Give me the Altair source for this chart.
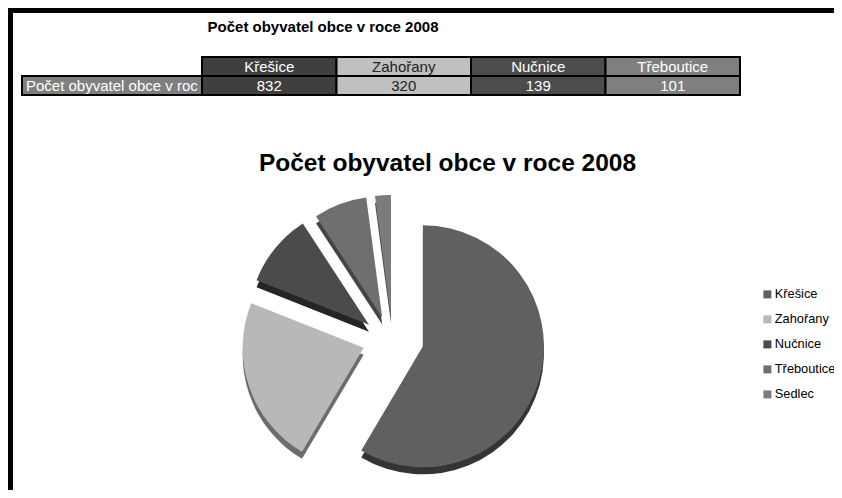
import altair as alt
import pandas as pd

# ---- data ----
names = ["Křešice", "Zahořany", "Nučnice", "Třeboutice", "Sedlec"]
values = [832, 320, 139, 101, 30]          # Sedlec hidden in the table
order = [1, 2, 3, 4, 5]
table_names = ["Křešice", "Zahořany", "Nučnice", "Třeboutice"]
table_values = [832, 320, 139, 101]
title_text = "Počet obyvatel obce v roce 2008"
row_label = "Počet obyvatel obce v roce 2008"

# ---- styles ----
pie_colors = ["#606060", "#b8b8b8", "#4b4b4b", "#6f6f6f", "#7b7b7b"]
side_colors = ["#343434", "#6c6c6c", "#252525", "#444444", "#4e4e4e"]
table_colors = ["#3f3f3f", "#c0c0c0", "#4c4c4c", "#7f7f7f"]
FONT = "Liberation Sans"
CX, CY, R = 385, 332, 121
EX, EY, DEPTH = 31, 24, 7

pie_df = pd.DataFrame({"name": names, "value": values, "order": order})

cells = []
for n, v in zip(table_names, table_values):
    cells.append({"name": n, "row": "head", "label": n})
    cells.append({"name": n, "row": "val", "label": str(v)})
table_df = pd.DataFrame(cells)

W, H = 826, 482

base_pie = (
    alt.Chart(pie_df)
    .transform_joinaggregate(total="sum(value)")
    .transform_window(cum="sum(value)", sort=[alt.SortField("order")], frame=[None, 0])
    .transform_calculate(
        a1="2*PI*datum.cum/datum.total",
        a0="2*PI*(datum.cum-datum.value)/datum.total",
    )
    .transform_calculate(mid="(datum.a0+datum.a1)/2")
    .transform_calculate(
        px=f"{CX}+{EX}*sin(datum.mid)",
        py=f"{CY}-{EY}*cos(datum.mid)",
        py2=f"{CY}+{DEPTH}-{EY}*cos(datum.mid)",
    )
)

shadow = base_pie.mark_arc(radius=R, stroke=None).encode(
    x=alt.X("px:Q", scale=None, axis=None),
    y=alt.Y("py2:Q", scale=None, axis=None),
    theta=alt.Theta("a0:Q", scale=None),
    theta2="a1:Q",
    color=alt.Color("name:N", scale=alt.Scale(domain=names, range=side_colors), legend=None),
)

top = base_pie.mark_arc(radius=R, stroke=None).encode(
    x=alt.X("px:Q", scale=None, axis=None),
    y=alt.Y("py:Q", scale=None, axis=None),
    theta=alt.Theta("a0:Q", scale=None),
    theta2="a1:Q",
    color=alt.Color(
        "name:N",
        scale=alt.Scale(domain=names, range=pie_colors),
        sort=names,
        legend=alt.Legend(
            title=None,
            orient="none",
            legendX=753,
            legendY=280,
            symbolType="square",
            symbolSize=64,
            symbolStrokeWidth=0,
            labelFont=FONT,
            labelFontSize=12.8,
            labelColor="#000000",
            labelOffset=1,
            labelLimit=200,
            rowPadding=11,
        ),
    ),
)

xband = alt.X("name:N", scale=alt.Scale(domain=table_names, range=[194, 732], paddingInner=0, paddingOuter=0), axis=None)
yband = alt.Y("row:N", scale=alt.Scale(domain=["head", "val"], range=[49, 87], paddingInner=0, paddingOuter=0), axis=None)

cells_rect = alt.Chart(table_df).mark_rect(stroke="#000000", strokeWidth=2).encode(
    x=xband,
    y=yband,
    color=alt.Color("name:N", scale=alt.Scale(domain=table_names, range=table_colors), legend=None),
)

cells_text = alt.Chart(table_df).mark_text(font=FONT, fontSize=15, baseline="middle", dy=0.5).encode(
    x=xband,
    y=yband,
    text="label:N",
    color=alt.condition(alt.datum.name == "Zahořany", alt.value("#222222"), alt.value("#ffffff")),
)

label_rect = alt.Chart(pd.DataFrame({"t": [row_label]})).mark_rect(
    fill="#7f7f7f", stroke="#000000", strokeWidth=2
).encode(x=alt.value(14), x2=alt.value(194), y=alt.value(68), y2=alt.value(87))

label_text = alt.Chart(pd.DataFrame({"t": [row_label]})).mark_text(
    font=FONT, fontSize=15, align="left", baseline="middle", color="#ffffff",
    limit=176, ellipsis="\u200b", dy=0.5
).encode(x=alt.value(18), y=alt.value(77.5), text="t:N")

small_title = alt.Chart(pd.DataFrame({"t": [title_text]})).mark_text(
    font=FONT, fontSize=15, fontWeight="bold", align="center", baseline="middle", color="#000000"
).encode(x=alt.value(315), y=alt.value(19), text="t:N")

main_title = alt.Chart(pd.DataFrame({"t": [title_text]})).mark_text(
    font=FONT, fontSize=24.5, fontWeight="bold", align="center", baseline="middle", color="#000000"
).encode(x=alt.value(439.5), y=alt.value(156), text="t:N")

frame_left = alt.Chart(pd.DataFrame({"a": [0]})).mark_rule(color="#000000", strokeWidth=5).encode(
    x=alt.value(2.5), y=alt.value(0), y2=alt.value(H)
)
frame_top = alt.Chart(pd.DataFrame({"a": [0]})).mark_rule(color="#000000", strokeWidth=5).encode(
    y=alt.value(2.5), x=alt.value(0), x2=alt.value(W)
)

chart = (
    alt.layer(
        frame_left, frame_top, small_title, label_rect, label_text,
        cells_rect, cells_text, main_title, shadow, top,
    )
    .resolve_scale(x="independent", y="independent", color="independent")
    .properties(width=W, height=H, padding=0, autosize=alt.AutoSizeParams(type="none"), background="#ffffff")
    .configure_view(stroke=None)
)

chart.save("out.html", embed_options={"renderer": "svg", "actions": False})
